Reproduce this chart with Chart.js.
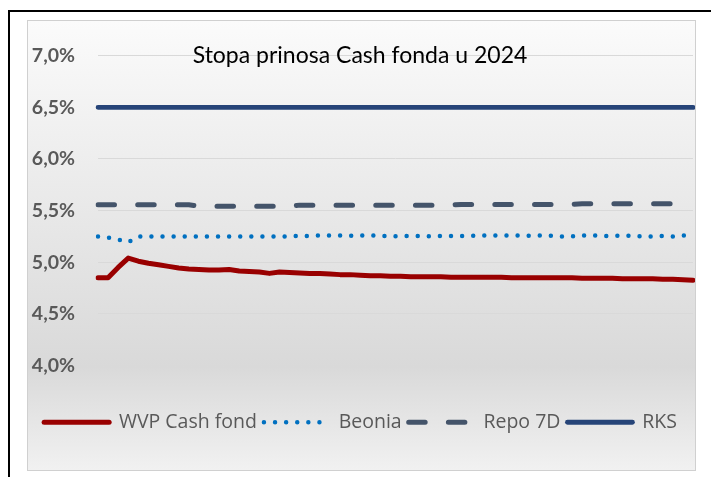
<!DOCTYPE html>
<html>
<head>
<meta charset="utf-8">
<title>Stopa prinosa Cash fonda u 2024</title>
<script src="https://cdn.jsdelivr.net/npm/chart.js@4/dist/chart.umd.min.js"></script>
<style>
  body { margin: 0; background: #fff; width: 711px; height: 477px; overflow: hidden; position: relative; }
  #frame { position: absolute; left: 8px; top: 10px; width: 720px; height: 480px;
           border-left: 2px solid #000; border-top: 2px solid #000; }
  #box { position: absolute; left: 27px; top: 20px; width: 667px; height: 449px;
         border: 1px solid #d0d0d0;
         background: linear-gradient(to bottom, #fbfbfb 0%, #e5e5e5 50%, #d9d9d9 77%, #f1f1f1 100%); }
  #wrap { position: absolute; left: 0; top: 0; width: 667px; height: 449px; }
</style>
</head>
<body>
<div id="frame"></div>
<div id="box"><div id="wrap"><canvas id="chart"></canvas></div></div>
<script>
// Podaci (sedmicne vrijednosti, u %)
const weeks = [1, 2, 3, 4, 5, 6, 7, 8, 9, 10, 11, 12, 13, 14, 15, 16, 17, 18, 19, 20,
  21, 22, 23, 24, 25, 26, 27, 28, 29, 30, 31, 32, 33, 34, 35, 36, 37, 38, 39, 40,
  41, 42, 43, 44, 45, 46, 47, 48, 49, 50, 51, 52, 53, 54, 55, 56, 57, 58, 59, 60];

const wvpCash = [4.85, 4.85, 4.95, 5.04, 5.01, 4.99, 4.975, 4.96, 4.945, 4.935,
  4.93, 4.925, 4.925, 4.93, 4.915, 4.91, 4.905, 4.892, 4.905, 4.90,
  4.895, 4.89, 4.89, 4.885, 4.88, 4.88, 4.875, 4.87, 4.87, 4.865,
  4.865, 4.86, 4.86, 4.86, 4.86, 4.855, 4.855, 4.855, 4.855, 4.855,
  4.855, 4.85, 4.85, 4.85, 4.85, 4.85, 4.85, 4.85, 4.845, 4.845,
  4.845, 4.845, 4.84, 4.84, 4.84, 4.84, 4.835, 4.835, 4.83, 4.825];

const beonia = [5.25, 5.24, 5.22, 5.195, 5.25, 5.25, 5.25, 5.25, 5.25, 5.25,
  5.25, 5.25, 5.25, 5.25, 5.25, 5.25, 5.25, 5.25, 5.25, 5.25,
  5.255, 5.255, 5.26, 5.26, 5.26, 5.255, 5.26, 5.26, 5.255, 5.25,
  5.255, 5.255, 5.255, 5.25, 5.255, 5.255, 5.255, 5.255, 5.26, 5.26,
  5.26, 5.26, 5.26, 5.255, 5.26, 5.255, 5.25, 5.25, 5.26, 5.26,
  5.255, 5.255, 5.26, 5.255, 5.25, 5.25, 5.255, 5.25, 5.26, 5.26];

const repo7d = [5.556, 5.556, 5.556, 5.556, 5.556, 5.556, 5.556, 5.556, 5.556, 5.556,
  5.543, 5.543, 5.543, 5.543, 5.543, 5.543, 5.543, 5.543, 5.543, 5.543,
  5.553, 5.553, 5.553, 5.553, 5.553, 5.553, 5.553, 5.553, 5.553, 5.553,
  5.553, 5.553, 5.553, 5.553, 5.553, 5.553, 5.56, 5.56, 5.56, 5.56,
  5.56, 5.56, 5.56, 5.56, 5.56, 5.56, 5.56, 5.56, 5.566, 5.566,
  5.566, 5.566, 5.566, 5.566, 5.566, 5.566, 5.566, 5.566, 5.566, 5.566];

const rks = [6.5, 6.5, 6.5, 6.5, 6.5, 6.5, 6.5, 6.5, 6.5, 6.5,
  6.5, 6.5, 6.5, 6.5, 6.5, 6.5, 6.5, 6.5, 6.5, 6.5,
  6.5, 6.5, 6.5, 6.5, 6.5, 6.5, 6.5, 6.5, 6.5, 6.5,
  6.5, 6.5, 6.5, 6.5, 6.5, 6.5, 6.5, 6.5, 6.5, 6.5,
  6.5, 6.5, 6.5, 6.5, 6.5, 6.5, 6.5, 6.5, 6.5, 6.5,
  6.5, 6.5, 6.5, 6.5, 6.5, 6.5, 6.5, 6.5, 6.5, 6.5];

const yTicks = [4.0, 4.5, 5.0, 5.5, 6.0, 6.5, 7.0];
const chartTitle = "Stopa prinosa Cash fonda u 2024";

// Naslov crtamo preko mreze, kao u Excelu
const titlePlugin = {
  id: "innerTitle",
  afterDraw(chart) {
    const ctx = chart.ctx;
    ctx.save();
    ctx.font = "23px Lato";
    ctx.fillStyle = "#000";
    ctx.textAlign = "center";
    ctx.textBaseline = "alphabetic";
    ctx.fillText(chartTitle, 332, 42);
    ctx.restore();
  },
};

function lineSet(label, data, color, width, dash) {
  return {
    label: label,
    data: data,
    borderColor: color,
    backgroundColor: color,
    borderWidth: width,
    borderDash: dash,
    borderCapStyle: "round",
    borderJoinStyle: "round",
    pointRadius: 0,
    pointHoverRadius: 0,
    tension: 0,
    fill: false,
  };
}

// Legenda: linija sa istim stilom kao serija
function legendLabels(chart) {
  return chart.data.datasets.map((ds, i) => ({
    text: ds.label,
    datasetIndex: i,
    fillStyle: ds.borderColor,
    strokeStyle: ds.borderColor,
    lineWidth: ds.borderWidth,
    lineDash: ds.borderDash,
    lineCap: "round",
    pointStyle: "line",
    fontColor: "#595959",
    hidden: false,
  }));
}

new Chart(document.getElementById("chart"), {
  type: "line",
  data: {
    labels: weeks,
    datasets: [
      lineSet("WVP Cash fond", wvpCash, "#990000", 5, []),
      lineSet("Beonia", beonia, "#0070c0", 4.5, [0, 11.1]),
      lineSet("Repo 7D", repo7d, "#44546a", 5, [16.5, 23.2]),
      lineSet("RKS", rks, "#264478", 4.8, []),
    ],
  },
  options: {
    responsive: true,
    maintainAspectRatio: false,
    animation: false,
    layout: { padding: { top: 31, right: 2, bottom: 28, left: 0 } },
    plugins: {
      tooltip: { enabled: false },
      legend: {
        position: "bottom",
        labels: {
          usePointStyle: true,
          pointStyle: "line",
          pointStyleWidth: 65,
          padding: 7,
          color: "#595959",
          font: { family: "'Open Sans'", size: 19.5 },
          generateLabels: legendLabels,
        },
      },
    },
    scales: {
      x: {
        display: true,
        ticks: { display: false },
        grid: { display: false },
        border: { display: false },
        afterFit(scale) {
          scale.height = 40;
        },
      },
      y: {
        min: 4,
        max: 7,
        afterBuildTicks(scale) {
          scale.ticks = yTicks.map((v) => ({ value: v }));
        },
        afterFit(scale) {
          scale.width = 70;
        },
        ticks: {
          padding: 23,
          color: "#595959",
          font: { family: "Lato", size: 19.5, weight: "bold" },
          callback: (v) => v.toFixed(1).replace(".", ",") + "%",
        },
        grid: { color: "#d9d9d9", lineWidth: 1, drawTicks: false },
        border: { display: false },
      },
    },
  },
  plugins: [titlePlugin],
});
</script>
</body>
</html>
